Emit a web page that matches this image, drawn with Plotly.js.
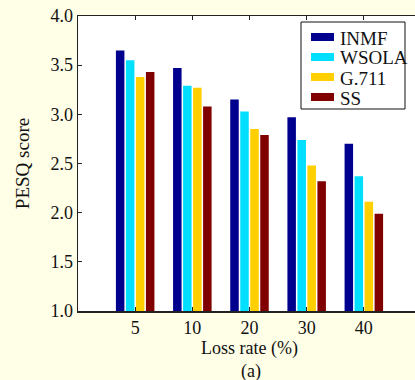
<!DOCTYPE html>
<html>
<head>
<meta charset="utf-8">
<script src="https://cdn.plot.ly/plotly-3.0.1.min.js"></script>
<style>
html, body { margin: 0; padding: 0; overflow: hidden; background: #FFFEE6; width: 415px; height: 380px; }
#chart { width: 425px; height: 380px; }
</style>
</head>
<body>
<div id="chart"></div>
<script>
const lossRates = ["5", "10", "20", "30", "40"];
const seriesNames = ["INMF", "WSOLA", "G.711", "SS"];
const inmf  = [3.65, 3.47, 3.15, 2.97, 2.70];
const wsola = [3.55, 3.29, 3.03, 2.74, 2.37];
const g711  = [3.38, 3.27, 2.85, 2.48, 2.11];
const ss    = [3.43, 3.08, 2.79, 2.32, 1.99];
const colors = ["#00008F", "#00DFFF", "#FFCF00", "#800000"];

const allSeries = [inmf, wsola, g711, ss];
const font = "Liberation Serif, Times New Roman, serif";

// plot area geometry in pixels (used to place the legend box)
const M = { l: 78, r: 4, t: 16, b: 69 };
const W = 425, H = 380;
const pw = W - M.l - M.r, ph = H - M.t - M.b;
const px = x => (x - M.l) / pw;
const py = y => 1 - (y - M.t) / ph;

const traces = allSeries.map((vals, i) => ({
  type: "bar", x: lossRates, y: vals, name: seriesNames[i],
  marker: { color: colors[i], line: { width: 0 } },
  showlegend: false
}));

const shapes = [{
  type: "rect", xref: "paper", yref: "paper",
  x0: px(301), x1: px(405), y0: py(22), y1: py(109),
  fillcolor: "#FFFFFF", line: { color: "#111", width: 1 }, layer: "above"
}];
const annotations = [];
seriesNames.forEach((name, i) => {
  const cy = 37 + i * 20;
  shapes.push({
    type: "rect", xref: "paper", yref: "paper",
    x0: px(311), x1: px(334), y0: py(cy + 4), y1: py(cy - 4),
    fillcolor: colors[i], line: { width: 0 }, layer: "above"
  });
  annotations.push({
    text: name, xref: "paper", yref: "paper", x: px(338), y: py(cy + 1),
    xanchor: "left", yanchor: "middle", showarrow: false,
    font: { family: font, size: 19, color: "#111" }
  });
});
annotations.push({
  text: "(a)", xref: "paper", yref: "paper", x: 0.505, y: -0.163,
  xanchor: "center", yanchor: "top", showarrow: false,
  font: { family: font, size: 18 }
});

const layout = {
  width: W, height: H,
  paper_bgcolor: "#FFFEE6", plot_bgcolor: "#FFFFFF",
  margin: M,
  barmode: "group", bargap: 0.3, bargroupgap: 0.15,
  font: { family: font, size: 18, color: "#111" },
  showlegend: false,
  xaxis: {
    type: "category", range: [-1, 5],
    showline: true, linecolor: "#222", linewidth: 1.5, mirror: "ticks",
    ticks: "inside", ticklen: 4, tickcolor: "#222",
    showgrid: false, zeroline: false,
    tickfont: { family: font, size: 18 },
    title: { text: "Loss rate (%)", font: { family: font, size: 18 }, standoff: 4 }
  },
  yaxis: {
    range: [1, 4], dtick: 0.5, tickformat: ".1f",
    showline: true, linecolor: "#222", linewidth: 1.5, mirror: "ticks",
    ticks: "inside", ticklen: 4, tickcolor: "#222",
    showgrid: false, zeroline: false,
    tickfont: { family: font, size: 18 },
    title: { text: "PESQ score", font: { family: font, size: 19 }, standoff: 16 }
  },
  shapes: shapes,
  annotations: annotations
};

Plotly.newPlot("chart", traces, layout, { displayModeBar: false, staticPlot: true });
</script>
</body>
</html>
